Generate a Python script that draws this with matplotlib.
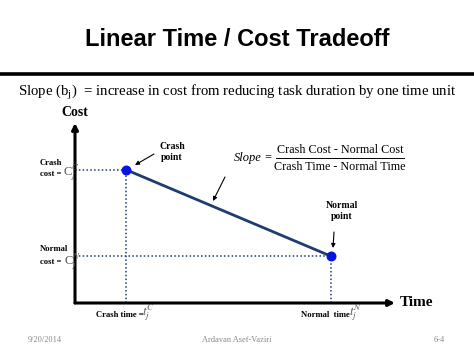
import matplotlib
matplotlib.use("Agg")
import matplotlib.pyplot as plt

# the two points of the linear time / cost tradeoff (arbitrary units)
point_names = ["Crash", "Normal"]
times = [1.6, 8.0]
costs = [7.4, 2.6]

plt.rcParams['font.family'] = ['Liberation Serif', 'DejaVu Serif']
plt.rcParams['mathtext.fontset'] = 'stix'

W, H = 474, 355
fig = plt.figure(figsize=(W / 100, H / 100), dpi=100)


def fx(px):
    return px / W


def fy(py):
    return 1 - py / H


navy = '#1f3c70'

# title + thick rule under it
fig.text(fx(237), fy(40), "Linear Time / Cost Tradeoff", ha='center', va='center',
         fontsize=17, fontweight='bold', family='Liberation Sans')
fig.add_artist(plt.Line2D([0, 1], [fy(74), fy(74)], color='black', lw=2.6))
fig.text(fx(237), fy(93), r"Slope (b$_\mathregular{j}$)  = increase in cost from reducing task duration by one time unit",
         ha='center', va='center', fontsize=10.6)

# chart area
ax = fig.add_axes([fx(75), fy(303), fx(395) - fx(75), fy(123) - fy(303)])
ax.set_xlim(0, 10)
ax.set_ylim(0, 10)
ax.axis('off')

arrow = dict(arrowstyle='-|>', lw=2.2, color='black', mutation_scale=9, shrinkA=0, shrinkB=0)
ax.annotate('', xy=(1, 0), xytext=(0, 0), xycoords='axes fraction', arrowprops=arrow)
ax.annotate('', xy=(0, 1), xytext=(0, 0), xycoords='axes fraction', arrowprops=arrow)

# guide lines to the axes
for t, c in zip(times, costs):
    ax.plot([0, t], [c, c], ls=(0, (1, 1.5)), color=navy, lw=1.1)
    ax.plot([t, t], [0, c], ls=(0, (1, 1.5)), color=navy, lw=1.1)

ax.plot(times, costs, color=navy, lw=2)
ax.scatter(times, costs, s=38, color='#0a14e0', zorder=4)

# axis names
fig.text(fx(75), fy(112), "Cost", ha='center', va='center', fontsize=10, fontweight='bold')
fig.text(fx(417), fy(302), "Time", ha='center', va='center', fontsize=11, fontweight='bold')

# tick-like labels
small = dict(fontsize=6.2, fontweight='bold')
sym = dict(fontsize=9, color='#555555', va='center', ha='left')
fig.text(fx(40), fy(163), "Crash", ha='left', va='center', **small)
fig.text(fx(40), fy(174), "cost = ", ha='left', va='center', **small)
fig.text(fx(63), fy(173), r"$\mathregular{C}_j^C$", **sym)
fig.text(fx(40), fy(249), "Normal", ha='left', va='center', **small)
fig.text(fx(40), fy(262), "cost = ", ha='left', va='center', **small)
fig.text(fx(64), fy(262), r"$\mathregular{C}_j^N$", **sym)
fig.text(fx(96), fy(315), "Crash time =", ha='left', va='center', **small)
fig.text(fx(142), fy(313), r"$t_j^C$", **sym)
fig.text(fx(301), fy(315), "Normal  time", ha='left', va='center', **small)
fig.text(fx(349), fy(313), r"$t_j^N$", **sym)

# point labels with arrows
pointer = dict(arrowstyle='-|>', lw=0.8, color='black', mutation_scale=6, shrinkA=0, shrinkB=0)
fig.text(fx(172), fy(152), "Crash\npoint", ha='center', va='center', fontsize=7, fontweight='bold',
         linespacing=1.2)
ax.annotate('', xy=(fx(135), fy(165)), xytext=(fx(154), fy(154)), xycoords='figure fraction',
            arrowprops=pointer)
fig.text(fx(342), fy(211), "Normal\npoint", ha='center', va='center', fontsize=7, fontweight='bold',
         linespacing=1.2)
ax.annotate('', xy=(fx(333), fy(248)), xytext=(fx(334), fy(232)), xycoords='figure fraction',
            arrowprops=pointer)

# slope formula
fig.text(fx(262), fy(158), "Slope", ha='right', va='center', fontsize=9, style='italic')
fig.text(fx(268), fy(157), "=", ha='center', va='center', fontsize=9)
fig.text(fx(340), fy(150), "Crash Cost - Normal Cost", ha='center', va='center', fontsize=8.7)
fig.text(fx(340), fy(167), "Crash Time - Normal Time", ha='center', va='center', fontsize=8.7)
fig.add_artist(plt.Line2D([fx(276), fx(404)], [fy(158), fy(158)], color='black', lw=0.7))
ax.annotate('', xy=(fx(213), fy(201)), xytext=(fx(225), fy(177)), xycoords='figure fraction',
            arrowprops=pointer)

# footer
foot = dict(fontsize=6, color='#8a8a8a', va='center')
fig.text(fx(28), fy(340), "9/20/2014", ha='left', **foot)
fig.text(fx(237), fy(340), "Ardavan Asef-Vaziri", ha='center', **foot)
fig.text(fx(445), fy(340), "6-4", ha='right', **foot)

fig.savefig("out.png", dpi=100)
